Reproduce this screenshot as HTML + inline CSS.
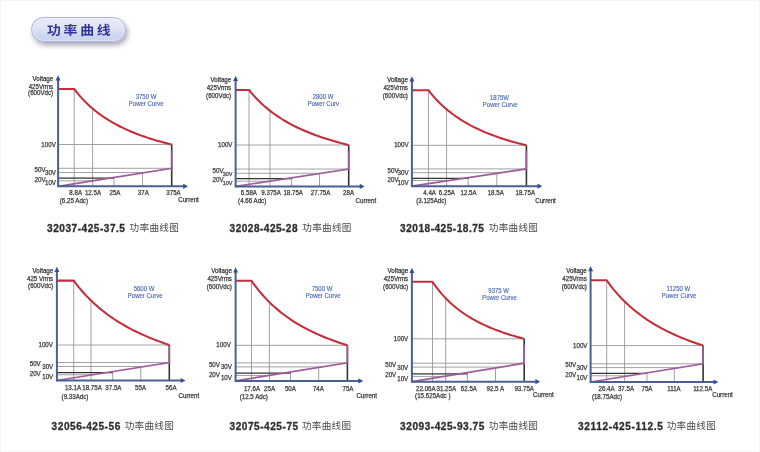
<!DOCTYPE html>
<html><head><meta charset="utf-8"><style>
html,body{margin:0;padding:0;background:#fff;}
body{width:760px;height:452px;overflow:hidden;position:relative;box-shadow:inset 0 0 0 1px #f5f5f5;}
svg{position:absolute;left:0;top:0;will-change:transform;filter:blur(0.35px);}
.s{font-family:"Liberation Sans",Arial,sans-serif;font-size:6px;fill:#3a3a3a;stroke:#3a3a3a;stroke-width:0.25px;}
.b{font-family:"Liberation Sans",Arial,sans-serif;font-size:6px;fill:#4563b3;stroke:#4563b3;stroke-width:0.12px;}
.tt{font-family:"Liberation Sans",Arial,sans-serif;font-size:10.1px;letter-spacing:0.55px;font-weight:bold;fill:#2e2e2e;stroke:#2e2e2e;stroke-width:0.3px;}
.tc{font-family:"Liberation Sans","Noto Sans CJK SC",sans-serif;font-size:9.6px;letter-spacing:0.3px;fill:#4a4a4a;}
.btn{will-change:transform;position:absolute;left:31px;top:17px;width:95px;height:25px;box-sizing:border-box;border-radius:12.5px;border:1.8px solid #a9b1dc;
background:linear-gradient(180deg,#e9eaf6 0%,#e2e5f5 40%,#cdd7f2 75%,#c6d2f0 100%);box-shadow:2px 3.5px 5px rgba(60,60,90,0.42), inset 0 0 1px 1px rgba(255,255,255,0.4);filter:blur(0.3px);}
.btn span{position:absolute;left:15.1px;top:6.6px;font-family:"Liberation Sans","Noto Sans CJK SC",sans-serif;font-weight:bold;font-size:12.4px;letter-spacing:2.45px;color:#31349a;line-height:13px;transform:scaleX(1.12);transform-origin:0 0;white-space:nowrap;}
</style></head><body>
<div class="btn"><span>功率曲线</span></div>
<svg width="760" height="452" viewBox="0 0 760 452">
<path d="M58.1 144.5H171.7M58.1 168.3H171.7M58.1 172.5H145.19M58.1 180.8H92.81" stroke="#a2a2a2" stroke-width="1" fill="none"/>
<path d="M74.2 89V186.3M92.6 108.56V186.3M114 178.2V186.3M142.5 172.93V186.3" stroke="#969696" stroke-width="0.9" fill="none"/>
<path d="M58.1 178.2H114" stroke="#333333" stroke-width="1.3" fill="none"/>
<path d="M171.7 144.5V186.3" stroke="#333333" stroke-width="1.6" fill="none"/>
<path d="M58.1 186.3L171.7 168.3V150.5" stroke="#9e5c9a" stroke-width="1.7" fill="none" stroke-linejoin="miter"/>
<path d="M58.1 89 L74.2 89 L76.64 92.13 L79.08 95.07 L81.51 97.84 L83.95 100.44 L86.39 102.89 L88.83 105.21 L91.26 107.41 L93.7 109.49 L96.14 111.46 L98.58 113.33 L101.01 115.12 L103.45 116.82 L105.89 118.43 L108.32 119.98 L110.76 121.46 L113.2 122.87 L115.64 124.22 L118.07 125.51 L120.51 126.75 L122.95 127.94 L125.39 129.09 L127.82 130.19 L130.26 131.24 L132.7 132.26 L135.14 133.24 L137.57 134.18 L140.01 135.09 L142.45 135.97 L144.89 136.82 L147.32 137.64 L149.76 138.43 L152.2 139.19 L154.64 139.93 L157.07 140.65 L159.51 141.34 L161.95 142.01 L164.39 142.66 L166.82 143.29 L169.26 143.91 L171.7 144.5" stroke="#c62d39" stroke-width="2.05" fill="none" stroke-linejoin="round"/>
<path d="M58.1 186.3V79.2M57.1 186.3H184" stroke="#4a5f94" stroke-width="2" fill="none"/>
<path d="M58.1 75.2L60.6 80.4L55.6 80.4Z M188 186.3L183.2 183.7L183.2 188.9Z" fill="#34509c"/>
<text x="75.7" y="195" text-anchor="middle" class="s" style="font-size:6.54px" textLength="12.71" lengthAdjust="spacingAndGlyphs">8.8A</text>
<text x="93" y="195" text-anchor="middle" class="s" style="font-size:6.54px" textLength="16.15" lengthAdjust="spacingAndGlyphs">12.5A</text>
<text x="115" y="195" text-anchor="middle" class="s" style="font-size:6.54px" textLength="11" lengthAdjust="spacingAndGlyphs">25A</text>
<text x="143.3" y="195" text-anchor="middle" class="s" style="font-size:6.54px" textLength="11" lengthAdjust="spacingAndGlyphs">37A</text>
<text x="173.5" y="195" text-anchor="middle" class="s" style="font-size:6.54px" textLength="14.43" lengthAdjust="spacingAndGlyphs">375A</text>
<text x="73.9" y="203.3" text-anchor="middle" class="s" style="font-size:6.54px" textLength="28.17" lengthAdjust="spacingAndGlyphs">(6.25 Adc)</text>
<text x="178.2" y="201.7" text-anchor="start" class="s" style="font-size:6.54px" textLength="20.61" lengthAdjust="spacingAndGlyphs">Current</text>
<text x="146" y="98.7" text-anchor="middle" class="b" style="font-size:6.54px" textLength="20.68" lengthAdjust="spacingAndGlyphs">3750 W</text>
<text x="146.2" y="105.7" text-anchor="middle" class="b" style="font-size:6.54px" textLength="34.68" lengthAdjust="spacingAndGlyphs">Power Curve</text>
<text x="53.2" y="81.3" text-anchor="end" class="s" style="font-size:6.54px" textLength="20.62" lengthAdjust="spacingAndGlyphs">Voltage</text>
<text x="53.2" y="88.5" text-anchor="end" class="s" style="font-size:6.54px" textLength="24.5" lengthAdjust="spacingAndGlyphs">425Vrms</text>
<text x="53.2" y="95.3" text-anchor="end" class="s" style="font-size:6.54px" textLength="25.08" lengthAdjust="spacingAndGlyphs">(600Vdc)</text>
<text x="55.8" y="146.6" text-anchor="end" class="s" style="font-size:6.54px" textLength="14.43" lengthAdjust="spacingAndGlyphs">100V</text>
<text x="45.6" y="171.9" text-anchor="end" class="s" style="font-size:6.54px" textLength="11" lengthAdjust="spacingAndGlyphs">50V</text>
<text x="56" y="174.9" text-anchor="end" class="s" style="font-size:6.54px" textLength="11" lengthAdjust="spacingAndGlyphs">30V</text>
<text x="45.6" y="181.8" text-anchor="end" class="s" style="font-size:6.54px" textLength="11" lengthAdjust="spacingAndGlyphs">20V</text>
<text x="56" y="185" text-anchor="end" class="s" style="font-size:6.54px" textLength="11" lengthAdjust="spacingAndGlyphs">10V</text>
<text x="47" y="232" class="tt" textLength="78.5" lengthAdjust="spacing">32037-425-37.5</text>
<text x="129.6" y="231.1" class="tc">功率曲线图</text>
<path d="M235.6 145H348.7M235.6 169H348.7M235.6 173.3H320.75M235.6 181.2H269.4" stroke="#a2a2a2" stroke-width="1" fill="none"/>
<path d="M249 90V186.4M270 110.75V186.4M291.6 178.6V186.4M319.5 173.49V186.4" stroke="#969696" stroke-width="0.9" fill="none"/>
<path d="M235.6 178.6H291.6" stroke="#333333" stroke-width="1.3" fill="none"/>
<path d="M348.7 145V186.4" stroke="#333333" stroke-width="1.6" fill="none"/>
<path d="M235.6 186.4L348.7 169V151" stroke="#9e5c9a" stroke-width="1.7" fill="none" stroke-linejoin="miter"/>
<path d="M235.6 90 L249 90 L251.49 93.02 L253.99 95.86 L256.48 98.54 L258.97 101.07 L261.46 103.46 L263.95 105.73 L266.45 107.87 L268.94 109.91 L271.43 111.85 L273.93 113.7 L276.42 115.46 L278.91 117.14 L281.4 118.75 L283.89 120.28 L286.39 121.75 L288.88 123.15 L291.37 124.5 L293.87 125.79 L296.36 127.04 L298.85 128.23 L301.34 129.38 L303.83 130.48 L306.33 131.54 L308.82 132.57 L311.31 133.55 L313.81 134.51 L316.3 135.43 L318.79 136.31 L321.28 137.17 L323.77 138 L326.27 138.81 L328.76 139.58 L331.25 140.34 L333.75 141.06 L336.24 141.77 L338.73 142.46 L341.22 143.12 L343.71 143.77 L346.21 144.39 L348.7 145" stroke="#c62d39" stroke-width="2.05" fill="none" stroke-linejoin="round"/>
<path d="M235.6 186.4V79.8M234.6 186.4H360.6" stroke="#4a5f94" stroke-width="2" fill="none"/>
<path d="M235.6 75.8L238.1 81L233.1 81Z M364.6 186.4L359.8 183.8L359.8 189Z" fill="#34509c"/>
<text x="248.9" y="194.8" text-anchor="middle" class="s" style="font-size:6.54px" textLength="16.15" lengthAdjust="spacingAndGlyphs">6.58A</text>
<text x="271.1" y="194.8" text-anchor="middle" class="s" style="font-size:6.54px" textLength="19.59" lengthAdjust="spacingAndGlyphs">9.375A</text>
<text x="293.2" y="194.8" text-anchor="middle" class="s" style="font-size:6.54px" textLength="19.59" lengthAdjust="spacingAndGlyphs">18.75A</text>
<text x="320.6" y="194.8" text-anchor="middle" class="s" style="font-size:6.54px" textLength="19.59" lengthAdjust="spacingAndGlyphs">27.75A</text>
<text x="348.6" y="194.8" text-anchor="middle" class="s" style="font-size:6.54px" textLength="11" lengthAdjust="spacingAndGlyphs">28A</text>
<text x="252.2" y="202.8" text-anchor="middle" class="s" style="font-size:6.54px" textLength="28.17" lengthAdjust="spacingAndGlyphs">(4.66 Adc)</text>
<text x="355.5" y="202.5" text-anchor="start" class="s" style="font-size:6.54px" textLength="20.61" lengthAdjust="spacingAndGlyphs">Current</text>
<text x="323" y="99.2" text-anchor="middle" class="b" style="font-size:6.54px" textLength="20.68" lengthAdjust="spacingAndGlyphs">2800 W</text>
<text x="323.3" y="106.2" text-anchor="middle" class="b" style="font-size:6.54px" textLength="31.34" lengthAdjust="spacingAndGlyphs">Power Curv</text>
<text x="231.2" y="82" text-anchor="end" class="s" style="font-size:6.54px" textLength="20.62" lengthAdjust="spacingAndGlyphs">Voltage</text>
<text x="231.2" y="90.2" text-anchor="end" class="s" style="font-size:6.54px" textLength="24.5" lengthAdjust="spacingAndGlyphs">425Vrms</text>
<text x="231.2" y="98" text-anchor="end" class="s" style="font-size:6.54px" textLength="25.08" lengthAdjust="spacingAndGlyphs">(600Vdc)</text>
<text x="232.5" y="147.1" text-anchor="end" class="s" style="font-size:6.54px" textLength="14.43" lengthAdjust="spacingAndGlyphs">100V</text>
<text x="223.6" y="172.6" text-anchor="end" class="s" style="font-size:6.54px" textLength="11" lengthAdjust="spacingAndGlyphs">50V</text>
<text x="232.5" y="175.7" text-anchor="end" class="s" style="font-size:5.78px" textLength="9.71" lengthAdjust="spacingAndGlyphs">30V</text>
<text x="223.6" y="182.2" text-anchor="end" class="s" style="font-size:6.54px" textLength="11" lengthAdjust="spacingAndGlyphs">20V</text>
<text x="232.5" y="185.4" text-anchor="end" class="s" style="font-size:5.78px" textLength="9.71" lengthAdjust="spacingAndGlyphs">10V</text>
<text x="229.6" y="232" class="tt" textLength="68.5" lengthAdjust="spacing">32028-425-28</text>
<text x="302.3" y="231.1" class="tc">功率曲线图</text>
<path d="M411.9 145.3H526.4M411.9 168.9H526.4M411.9 172.7H501.25M411.9 180.5H449.63" stroke="#a2a2a2" stroke-width="1" fill="none"/>
<path d="M428.4 90.2V186.2M446.6 109.29V186.2M468.2 178.4V186.2M496.8 173.37V186.2" stroke="#969696" stroke-width="0.9" fill="none"/>
<path d="M411.9 178.4H468.2" stroke="#333333" stroke-width="1.3" fill="none"/>
<path d="M526.4 145.3V186.2" stroke="#333333" stroke-width="1.6" fill="none"/>
<path d="M411.9 186.2L526.4 168.9V151.3" stroke="#9e5c9a" stroke-width="1.7" fill="none" stroke-linejoin="miter"/>
<path d="M411.9 90.2 L428.4 90.2 L430.85 93.29 L433.3 96.2 L435.75 98.93 L438.2 101.5 L440.65 103.93 L443.1 106.22 L445.55 108.4 L448 110.46 L450.45 112.41 L452.9 114.27 L455.35 116.04 L457.8 117.72 L460.25 119.33 L462.7 120.86 L465.15 122.33 L467.6 123.73 L470.05 125.08 L472.5 126.36 L474.95 127.6 L477.4 128.78 L479.85 129.92 L482.3 131.02 L484.75 132.07 L487.2 133.08 L489.65 134.06 L492.1 135 L494.55 135.91 L497 136.78 L499.45 137.63 L501.9 138.44 L504.35 139.23 L506.8 140 L509.25 140.73 L511.7 141.45 L514.15 142.14 L516.6 142.81 L519.05 143.46 L521.5 144.09 L523.95 144.71 L526.4 145.3" stroke="#c62d39" stroke-width="2.05" fill="none" stroke-linejoin="round"/>
<path d="M411.9 186.2V80.2M410.9 186.2H538.3" stroke="#4a5f94" stroke-width="2" fill="none"/>
<path d="M411.9 76.2L414.4 81.4L409.4 81.4Z M542.3 186.2L537.5 183.6L537.5 188.8Z" fill="#34509c"/>
<text x="429.6" y="195" text-anchor="middle" class="s" style="font-size:6.54px" textLength="12.71" lengthAdjust="spacingAndGlyphs">4.4A</text>
<text x="446.9" y="195" text-anchor="middle" class="s" style="font-size:6.54px" textLength="16.15" lengthAdjust="spacingAndGlyphs">6.25A</text>
<text x="468.6" y="195" text-anchor="middle" class="s" style="font-size:6.54px" textLength="16.15" lengthAdjust="spacingAndGlyphs">12.5A</text>
<text x="495.7" y="195" text-anchor="middle" class="s" style="font-size:6.54px" textLength="16.15" lengthAdjust="spacingAndGlyphs">18.5A</text>
<text x="525.3" y="195" text-anchor="middle" class="s" style="font-size:6.54px" textLength="19.59" lengthAdjust="spacingAndGlyphs">18.75A</text>
<text x="431.3" y="203" text-anchor="middle" class="s" style="font-size:6.54px" textLength="30.23" lengthAdjust="spacingAndGlyphs">(3.125Adc)</text>
<text x="535.2" y="202.6" text-anchor="start" class="s" style="font-size:6.54px" textLength="20.61" lengthAdjust="spacingAndGlyphs">Current</text>
<text x="499.5" y="100.3" text-anchor="middle" class="b" style="font-size:6.54px" textLength="19.01" lengthAdjust="spacingAndGlyphs">1875W</text>
<text x="500.2" y="107" text-anchor="middle" class="b" style="font-size:6.54px" textLength="34.68" lengthAdjust="spacingAndGlyphs">Power Curve</text>
<text x="407.9" y="82" text-anchor="end" class="s" style="font-size:6.54px" textLength="20.62" lengthAdjust="spacingAndGlyphs">Voltage</text>
<text x="407.9" y="90.2" text-anchor="end" class="s" style="font-size:6.54px" textLength="24.5" lengthAdjust="spacingAndGlyphs">425Vrms</text>
<text x="407.9" y="98" text-anchor="end" class="s" style="font-size:6.54px" textLength="25.08" lengthAdjust="spacingAndGlyphs">(600Vdc)</text>
<text x="408.6" y="147.4" text-anchor="end" class="s" style="font-size:6.54px" textLength="14.43" lengthAdjust="spacingAndGlyphs">100V</text>
<text x="398.6" y="172.5" text-anchor="end" class="s" style="font-size:6.54px" textLength="11" lengthAdjust="spacingAndGlyphs">50V</text>
<text x="408.6" y="175.1" text-anchor="end" class="s" style="font-size:6.54px" textLength="11" lengthAdjust="spacingAndGlyphs">30V</text>
<text x="398.6" y="182" text-anchor="end" class="s" style="font-size:6.54px" textLength="11" lengthAdjust="spacingAndGlyphs">20V</text>
<text x="408.6" y="184.7" text-anchor="end" class="s" style="font-size:6.54px" textLength="11" lengthAdjust="spacingAndGlyphs">10V</text>
<text x="400.1" y="232.1" class="tt" textLength="84.4" lengthAdjust="spacing">32018-425-18.75</text>
<text x="488.8" y="231.2" class="tc">功率曲线图</text>
<path d="M56.9 345H169.3M56.9 362.5H169.3M56.9 366.5H144.32M56.9 374.8H92.49" stroke="#a2a2a2" stroke-width="1" fill="none"/>
<path d="M73.7 280.6V380.5M91 300.54V380.5M112.7 372.6V380.5M140.8 367.06V380.5" stroke="#969696" stroke-width="0.9" fill="none"/>
<path d="M56.9 372.6H112.7" stroke="#333333" stroke-width="1.3" fill="none"/>
<path d="M169.3 345V380.5" stroke="#333333" stroke-width="1.6" fill="none"/>
<path d="M56.9 380.5L169.3 362.5V345.8" stroke="#9e5c9a" stroke-width="1.7" fill="none" stroke-linejoin="miter"/>
<path d="M56.9 280.6 L73.7 280.6 L76.09 283.79 L78.48 286.82 L80.87 289.71 L83.26 292.46 L85.65 295.08 L88.04 297.59 L90.43 299.99 L92.82 302.28 L95.21 304.48 L97.6 306.59 L99.99 308.61 L102.38 310.56 L104.77 312.43 L107.16 314.23 L109.55 315.96 L111.94 317.63 L114.33 319.24 L116.72 320.79 L119.11 322.29 L121.5 323.74 L123.89 325.14 L126.28 326.49 L128.67 327.8 L131.06 329.07 L133.45 330.3 L135.84 331.49 L138.23 332.64 L140.62 333.76 L143.01 334.85 L145.4 335.91 L147.79 336.93 L150.18 337.93 L152.57 338.9 L154.96 339.84 L157.35 340.76 L159.74 341.65 L162.13 342.52 L164.52 343.37 L166.91 344.2 L169.3 345" stroke="#c62d39" stroke-width="2.05" fill="none" stroke-linejoin="round"/>
<path d="M56.9 380.5V270.8M55.9 380.5H181.5" stroke="#4a5f94" stroke-width="2" fill="none"/>
<path d="M56.9 266.8L59.4 272L54.4 272Z M185.5 380.5L180.7 377.9L180.7 383.1Z" fill="#34509c"/>
<text x="73" y="390.3" text-anchor="middle" class="s" style="font-size:6.54px" textLength="16.15" lengthAdjust="spacingAndGlyphs">13.1A</text>
<text x="92" y="390.3" text-anchor="middle" class="s" style="font-size:6.54px" textLength="19.59" lengthAdjust="spacingAndGlyphs">18.75A</text>
<text x="113.4" y="390.3" text-anchor="middle" class="s" style="font-size:6.54px" textLength="16.15" lengthAdjust="spacingAndGlyphs">37.5A</text>
<text x="140.6" y="390.3" text-anchor="middle" class="s" style="font-size:6.54px" textLength="11" lengthAdjust="spacingAndGlyphs">55A</text>
<text x="171.1" y="390.3" text-anchor="middle" class="s" style="font-size:6.54px" textLength="11" lengthAdjust="spacingAndGlyphs">56A</text>
<text x="75" y="398.8" text-anchor="middle" class="s" style="font-size:6.54px" textLength="26.79" lengthAdjust="spacingAndGlyphs">(9.33Adc)</text>
<text x="178.6" y="397.6" text-anchor="start" class="s" style="font-size:6.54px" textLength="20.61" lengthAdjust="spacingAndGlyphs">Current</text>
<text x="144" y="291" text-anchor="middle" class="b" style="font-size:6.54px" textLength="20.68" lengthAdjust="spacingAndGlyphs">5600 W</text>
<text x="145.2" y="298.1" text-anchor="middle" class="b" style="font-size:6.54px" textLength="34.68" lengthAdjust="spacingAndGlyphs">Power Curve</text>
<text x="53.2" y="273.3" text-anchor="end" class="s" style="font-size:6.54px" textLength="20.62" lengthAdjust="spacingAndGlyphs">Voltage</text>
<text x="53.2" y="280.6" text-anchor="end" class="s" style="font-size:6.54px" textLength="26.22" lengthAdjust="spacingAndGlyphs">425 Vrms</text>
<text x="53.2" y="288" text-anchor="end" class="s" style="font-size:6.54px" textLength="25.08" lengthAdjust="spacingAndGlyphs">(600Vdc)</text>
<text x="52.9" y="347.1" text-anchor="end" class="s" style="font-size:6.54px" textLength="14.43" lengthAdjust="spacingAndGlyphs">100V</text>
<text x="40.7" y="366.1" text-anchor="end" class="s" style="font-size:6.54px" textLength="11" lengthAdjust="spacingAndGlyphs">50V</text>
<text x="53.2" y="368.9" text-anchor="end" class="s" style="font-size:6.54px" textLength="11" lengthAdjust="spacingAndGlyphs">30V</text>
<text x="40.7" y="376.2" text-anchor="end" class="s" style="font-size:6.54px" textLength="11" lengthAdjust="spacingAndGlyphs">20V</text>
<text x="53.2" y="379" text-anchor="end" class="s" style="font-size:6.54px" textLength="11" lengthAdjust="spacingAndGlyphs">10V</text>
<text x="51.6" y="430.1" class="tt" textLength="69.2" lengthAdjust="spacing">32056-425-56</text>
<text x="124.7" y="429.2" class="tc">功率曲线图</text>
<path d="M235.6 345.3H347.4M235.6 362.9H347.4M235.6 366.9H322.56M235.6 375.5H269.14" stroke="#a2a2a2" stroke-width="1" fill="none"/>
<path d="M251.5 280.8V380.9M269.4 302.21V380.9M290.5 373.1V380.9M318.7 367.52V380.9" stroke="#969696" stroke-width="0.9" fill="none"/>
<path d="M235.6 373.1H290.5" stroke="#333333" stroke-width="1.3" fill="none"/>
<path d="M347.4 345.3V380.9" stroke="#333333" stroke-width="1.6" fill="none"/>
<path d="M235.6 380.9L347.4 362.9V346.1" stroke="#9e5c9a" stroke-width="1.7" fill="none" stroke-linejoin="miter"/>
<path d="M235.6 280.8 L251.5 280.8 L253.9 284.19 L256.3 287.39 L258.69 290.42 L261.09 293.3 L263.49 296.03 L265.88 298.62 L268.28 301.09 L270.68 303.45 L273.08 305.7 L275.48 307.84 L277.87 309.89 L280.27 311.86 L282.67 313.74 L285.06 315.54 L287.46 317.27 L289.86 318.93 L292.26 320.53 L294.65 322.06 L297.05 323.54 L299.45 324.96 L301.85 326.33 L304.25 327.65 L306.64 328.93 L309.04 330.16 L311.44 331.35 L313.83 332.5 L316.23 333.61 L318.63 334.68 L321.03 335.72 L323.42 336.73 L325.82 337.71 L328.22 338.66 L330.62 339.58 L333.01 340.47 L335.41 341.33 L337.81 342.17 L340.21 342.99 L342.6 343.78 L345 344.55 L347.4 345.3" stroke="#c62d39" stroke-width="2.05" fill="none" stroke-linejoin="round"/>
<path d="M235.6 380.9V271.2M234.6 380.9H359.2" stroke="#4a5f94" stroke-width="2" fill="none"/>
<path d="M235.6 267.2L238.1 272.4L233.1 272.4Z M363.2 380.9L358.4 378.3L358.4 383.5Z" fill="#34509c"/>
<text x="252" y="390.9" text-anchor="middle" class="s" style="font-size:6.54px" textLength="16.15" lengthAdjust="spacingAndGlyphs">17.6A</text>
<text x="269.6" y="390.9" text-anchor="middle" class="s" style="font-size:6.54px" textLength="11" lengthAdjust="spacingAndGlyphs">25A</text>
<text x="290.4" y="390.9" text-anchor="middle" class="s" style="font-size:6.54px" textLength="11" lengthAdjust="spacingAndGlyphs">50A</text>
<text x="318.4" y="390.9" text-anchor="middle" class="s" style="font-size:6.54px" textLength="11" lengthAdjust="spacingAndGlyphs">74A</text>
<text x="348" y="390.9" text-anchor="middle" class="s" style="font-size:6.54px" textLength="11" lengthAdjust="spacingAndGlyphs">75A</text>
<text x="253.8" y="398.8" text-anchor="middle" class="s" style="font-size:6.54px" textLength="28.17" lengthAdjust="spacingAndGlyphs">(12.5 Adc)</text>
<text x="356.4" y="397.6" text-anchor="start" class="s" style="font-size:6.54px" textLength="20.61" lengthAdjust="spacingAndGlyphs">Current</text>
<text x="322" y="291.2" text-anchor="middle" class="b" style="font-size:6.54px" textLength="20.68" lengthAdjust="spacingAndGlyphs">7500 W</text>
<text x="323.2" y="298.3" text-anchor="middle" class="b" style="font-size:6.54px" textLength="34.68" lengthAdjust="spacingAndGlyphs">Power Curve</text>
<text x="231.9" y="273.3" text-anchor="end" class="s" style="font-size:6.54px" textLength="20.62" lengthAdjust="spacingAndGlyphs">Voltage</text>
<text x="231.9" y="281.2" text-anchor="end" class="s" style="font-size:6.54px" textLength="24.5" lengthAdjust="spacingAndGlyphs">425Vrms</text>
<text x="231.9" y="289" text-anchor="end" class="s" style="font-size:6.54px" textLength="25.08" lengthAdjust="spacingAndGlyphs">(600Vdc)</text>
<text x="230.8" y="347.4" text-anchor="end" class="s" style="font-size:6.54px" textLength="14.43" lengthAdjust="spacingAndGlyphs">100V</text>
<text x="219.9" y="366.5" text-anchor="end" class="s" style="font-size:6.54px" textLength="11" lengthAdjust="spacingAndGlyphs">50V</text>
<text x="231.9" y="369.3" text-anchor="end" class="s" style="font-size:6.54px" textLength="11" lengthAdjust="spacingAndGlyphs">30V</text>
<text x="219.9" y="376.7" text-anchor="end" class="s" style="font-size:6.54px" textLength="11" lengthAdjust="spacingAndGlyphs">20V</text>
<text x="231.9" y="379.7" text-anchor="end" class="s" style="font-size:6.54px" textLength="11" lengthAdjust="spacingAndGlyphs">10V</text>
<text x="229.5" y="430.2" class="tt" textLength="69.2" lengthAdjust="spacing">32075-425-75</text>
<text x="301.9" y="429.3" class="tc">功率曲线图</text>
<path d="M411.9 338.8H524.2M411.9 363.2H524.2M411.9 367.1H500.53M411.9 376.4H444.07" stroke="#a2a2a2" stroke-width="1" fill="none"/>
<path d="M432.5 281.8V381.7M445.7 298.23V381.7M467.4 373.8V381.7M495.5 367.93V381.7" stroke="#969696" stroke-width="0.9" fill="none"/>
<path d="M411.9 373.8H467.4" stroke="#333333" stroke-width="1.3" fill="none"/>
<path d="M524.2 338.8V381.7" stroke="#333333" stroke-width="1.6" fill="none"/>
<path d="M411.9 381.7L524.2 363.2V344.8" stroke="#9e5c9a" stroke-width="1.7" fill="none" stroke-linejoin="miter"/>
<path d="M411.9 281.8 L432.5 281.8 L434.79 285.11 L437.08 288.21 L439.38 291.11 L441.67 293.83 L443.96 296.39 L446.25 298.8 L448.55 301.07 L450.84 303.22 L453.13 305.26 L455.43 307.19 L457.72 309.02 L460.01 310.76 L462.3 312.42 L464.6 313.99 L466.89 315.5 L469.18 316.94 L471.47 318.31 L473.77 319.63 L476.06 320.89 L478.35 322.1 L480.64 323.26 L482.94 324.37 L485.23 325.44 L487.52 326.47 L489.81 327.45 L492.11 328.41 L494.4 329.33 L496.69 330.21 L498.98 331.07 L501.28 331.89 L503.57 332.69 L505.86 333.46 L508.15 334.2 L510.45 334.92 L512.74 335.62 L515.03 336.3 L517.32 336.95 L519.62 337.59 L521.91 338.2 L524.2 338.8" stroke="#c62d39" stroke-width="2.05" fill="none" stroke-linejoin="round"/>
<path d="M411.9 381.7V271.7M410.9 381.7H536.2" stroke="#4a5f94" stroke-width="2" fill="none"/>
<path d="M411.9 267.7L414.4 272.9L409.4 272.9Z M540.2 381.7L535.4 379.1L535.4 384.3Z" fill="#34509c"/>
<text x="425.9" y="390.7" text-anchor="middle" class="s" style="font-size:6.54px" textLength="19.59" lengthAdjust="spacingAndGlyphs">22.06A</text>
<text x="446.3" y="390.7" text-anchor="middle" class="s" style="font-size:6.54px" textLength="19.59" lengthAdjust="spacingAndGlyphs">31.25A</text>
<text x="468.9" y="390.7" text-anchor="middle" class="s" style="font-size:6.54px" textLength="16.15" lengthAdjust="spacingAndGlyphs">62.5A</text>
<text x="495.3" y="390.7" text-anchor="middle" class="s" style="font-size:6.54px" textLength="17.53" lengthAdjust="spacingAndGlyphs">92.5 A</text>
<text x="524.2" y="390.7" text-anchor="middle" class="s" style="font-size:6.54px" textLength="19.59" lengthAdjust="spacingAndGlyphs">93.75A</text>
<text x="432.8" y="398" text-anchor="middle" class="s" style="font-size:6.54px" textLength="35.38" lengthAdjust="spacingAndGlyphs">(15.625Adc )</text>
<text x="533" y="397.4" text-anchor="start" class="s" style="font-size:6.54px" textLength="20.61" lengthAdjust="spacingAndGlyphs">Current</text>
<text x="498.7" y="292.5" text-anchor="middle" class="b" style="font-size:6.54px" textLength="20.68" lengthAdjust="spacingAndGlyphs">9375 W</text>
<text x="499.6" y="299.6" text-anchor="middle" class="b" style="font-size:6.54px" textLength="34.68" lengthAdjust="spacingAndGlyphs">Power Curve</text>
<text x="408.2" y="273.3" text-anchor="end" class="s" style="font-size:6.54px" textLength="20.62" lengthAdjust="spacingAndGlyphs">Voltage</text>
<text x="408.2" y="280.6" text-anchor="end" class="s" style="font-size:6.54px" textLength="24.5" lengthAdjust="spacingAndGlyphs">425Vrms</text>
<text x="408.2" y="288.5" text-anchor="end" class="s" style="font-size:6.54px" textLength="25.08" lengthAdjust="spacingAndGlyphs">(600Vdc)</text>
<text x="408.2" y="340.9" text-anchor="end" class="s" style="font-size:6.54px" textLength="14.43" lengthAdjust="spacingAndGlyphs">100V</text>
<text x="396.2" y="366.8" text-anchor="end" class="s" style="font-size:6.54px" textLength="11" lengthAdjust="spacingAndGlyphs">50V</text>
<text x="408.2" y="369.5" text-anchor="end" class="s" style="font-size:6.54px" textLength="11" lengthAdjust="spacingAndGlyphs">30V</text>
<text x="396.2" y="377.4" text-anchor="end" class="s" style="font-size:6.54px" textLength="11" lengthAdjust="spacingAndGlyphs">20V</text>
<text x="408.2" y="380.6" text-anchor="end" class="s" style="font-size:6.54px" textLength="11" lengthAdjust="spacingAndGlyphs">10V</text>
<text x="400.1" y="430.2" class="tt" textLength="84.8" lengthAdjust="spacing">32093-425-93.75</text>
<text x="488.8" y="429.3" class="tc">功率曲线图</text>
<path d="M590.6 345.6H703.1M590.6 363.8H703.1M590.6 367.6H679.61M590.6 375.8H628.92" stroke="#a2a2a2" stroke-width="1" fill="none"/>
<path d="M606.7 280.3V382M624.6 301.46V382M647 373.4V382M674.3 368.46V382" stroke="#969696" stroke-width="0.9" fill="none"/>
<path d="M590.6 373.4H647" stroke="#333333" stroke-width="1.3" fill="none"/>
<path d="M703.1 345.6V382" stroke="#333333" stroke-width="1.6" fill="none"/>
<path d="M590.6 382L703.1 363.8V346.4" stroke="#9e5c9a" stroke-width="1.7" fill="none" stroke-linejoin="miter"/>
<path d="M590.6 280.3 L606.7 280.3 L609.11 283.64 L611.52 286.8 L613.93 289.81 L616.34 292.66 L618.75 295.38 L621.16 297.97 L623.57 300.44 L625.98 302.79 L628.39 305.05 L630.8 307.2 L633.21 309.27 L635.62 311.25 L638.03 313.15 L640.44 314.97 L642.85 316.72 L645.26 318.41 L647.67 320.03 L650.08 321.59 L652.49 323.1 L654.9 324.55 L657.31 325.95 L659.72 327.31 L662.13 328.62 L664.54 329.88 L666.95 331.1 L669.36 332.29 L671.77 333.43 L674.18 334.54 L676.59 335.62 L679 336.67 L681.41 337.68 L683.82 338.66 L686.23 339.62 L688.64 340.55 L691.05 341.45 L693.46 342.32 L695.87 343.18 L698.28 344.01 L700.69 344.81 L703.1 345.6" stroke="#c62d39" stroke-width="2.05" fill="none" stroke-linejoin="round"/>
<path d="M590.6 382V270.1M589.6 382H714.4" stroke="#4a5f94" stroke-width="2" fill="none"/>
<path d="M590.6 266.1L593.1 271.3L588.1 271.3Z M718.4 382L713.6 379.4L713.6 384.6Z" fill="#34509c"/>
<text x="606.6" y="390.7" text-anchor="middle" class="s" style="font-size:6.54px" textLength="16.15" lengthAdjust="spacingAndGlyphs">26.4A</text>
<text x="626" y="390.7" text-anchor="middle" class="s" style="font-size:6.54px" textLength="16.15" lengthAdjust="spacingAndGlyphs">37.5A</text>
<text x="647" y="390.7" text-anchor="middle" class="s" style="font-size:6.54px" textLength="11" lengthAdjust="spacingAndGlyphs">75A</text>
<text x="674" y="390.7" text-anchor="middle" class="s" style="font-size:6.54px" textLength="13.52" lengthAdjust="spacingAndGlyphs">111A</text>
<text x="702.7" y="390.7" text-anchor="middle" class="s" style="font-size:6.54px" textLength="19.13" lengthAdjust="spacingAndGlyphs">112.5A</text>
<text x="607" y="398.5" text-anchor="middle" class="s" style="font-size:6.54px" textLength="30.23" lengthAdjust="spacingAndGlyphs">(18.75Adc)</text>
<text x="712.2" y="397.4" text-anchor="start" class="s" style="font-size:6.54px" textLength="20.61" lengthAdjust="spacingAndGlyphs">Current</text>
<text x="678.4" y="291" text-anchor="middle" class="b" style="font-size:6.54px" textLength="23.57" lengthAdjust="spacingAndGlyphs">11250 W</text>
<text x="679.1" y="298.1" text-anchor="middle" class="b" style="font-size:6.54px" textLength="34.68" lengthAdjust="spacingAndGlyphs">Power Curve</text>
<text x="586.8" y="273.3" text-anchor="end" class="s" style="font-size:6.54px" textLength="20.62" lengthAdjust="spacingAndGlyphs">Voltage</text>
<text x="586.8" y="280.6" text-anchor="end" class="s" style="font-size:6.54px" textLength="24.5" lengthAdjust="spacingAndGlyphs">425Vrms</text>
<text x="586.8" y="288.5" text-anchor="end" class="s" style="font-size:6.54px" textLength="25.08" lengthAdjust="spacingAndGlyphs">(600Vdc)</text>
<text x="587.5" y="347.7" text-anchor="end" class="s" style="font-size:6.54px" textLength="14.43" lengthAdjust="spacingAndGlyphs">100V</text>
<text x="576.2" y="367.4" text-anchor="end" class="s" style="font-size:6.54px" textLength="11" lengthAdjust="spacingAndGlyphs">50V</text>
<text x="587.5" y="370" text-anchor="end" class="s" style="font-size:6.54px" textLength="11" lengthAdjust="spacingAndGlyphs">30V</text>
<text x="576.2" y="377" text-anchor="end" class="s" style="font-size:6.54px" textLength="11" lengthAdjust="spacingAndGlyphs">20V</text>
<text x="587.5" y="380" text-anchor="end" class="s" style="font-size:6.54px" textLength="11" lengthAdjust="spacingAndGlyphs">10V</text>
<text x="578" y="430.2" class="tt" textLength="85.4" lengthAdjust="spacing">32112-425-112.5</text>
<text x="666.7" y="429.3" class="tc">功率曲线图</text>
</svg>
</body></html>
